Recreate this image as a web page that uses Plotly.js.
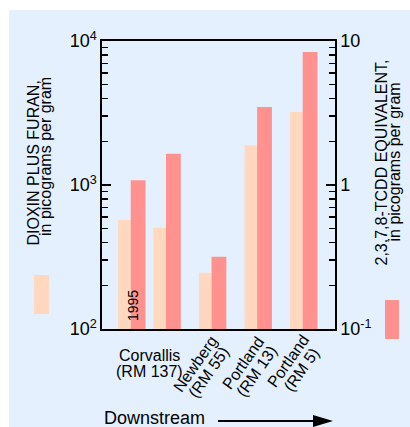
<!DOCTYPE html>
<html><head><meta charset="utf-8">
<script src="https://cdn.plot.ly/plotly-3.0.1.min.js"></script>
<style>html,body{margin:0;padding:0;background:#fff}#chart{width:410px;height:427px}</style>
</head><body><div id="chart"></div>
<script>
// ---- data ----
const sites = ['Corvallis 1995', 'Corvallis', 'Newberg', 'Portland RM13', 'Portland RM5'];
const dioxinFuran = [571, 505, 246, 1887, 3213];        // picograms per gram (left axis)
const tcddEquivalent = [1.08, 1.65, 0.318, 3.48, 8.39];  // picograms per gram (right axis)
const leftTickVals = [100, 1000, 10000];
const leftTickText = ['10<sup>2</sup>', '10<sup>3</sup>', '10<sup>4</sup>'];
const rightTickVals = [0.1, 1, 10];
const rightTickText = ['10<sup>-1</sup>', '1', '10'];
const siteLabels = [['Corvallis', '(RM 137)'], ['Newberg', '(RM 55)'], ['Portland', '(RM 13)'], ['Portland', '(RM 5)']];
const yearLabel = '1995';
const leftTitle = ['DIOXIN PLUS FURAN,', 'in picograms per gram'];
const rightTitle = ['2,3,7,8-TCDD EQUIVALENT,', 'in picograms per gram'];
const flowLabel = 'Downstream';

// ---- layout geometry ----
const W = 410, H = 427, L = 102, R = 75, T = 41, B = 98;
const PW = W - L - R, PH = H - T - B;
const fx = x => (x - L) / PW;
const fy = y => (H - B - y) / PH;
const FONT = 'Liberation Sans, Arial, sans-serif';
const LIGHT = '#FFD8BF', RED = '#FF928F', BG = '#E4F0FD';

const groupShift = [0.226, 0, 0, 0, 0];
const wLight = 0.276, wRed = 0.325;

function minorVals(lo, hi) {
  const v = [];
  for (let e = lo; e < hi; e++) for (let m = 2; m <= 9; m++) v.push(m * Math.pow(10, e));
  return v;
}

const traces = [
  { type: 'bar', x: sites, y: dioxinFuran, yaxis: 'y', marker: { color: LIGHT, line: { width: 0 } },
    width: wLight, offset: groupShift.map(s => s - wLight), hoverinfo: 'skip' },
  { type: 'bar', x: sites, y: tcddEquivalent, yaxis: 'y2', marker: { color: RED, line: { width: 0 } },
    width: wRed, offset: groupShift.map(s => s), hoverinfo: 'skip' }
];

const ann = [];
function txt(text, x, y, size, angle, extra) {
  ann.push(Object.assign({ text: text, xref: 'paper', yref: 'paper', x: fx(x), y: fy(y), showarrow: false,
    font: { family: FONT, size: size, color: '#000' }, textangle: angle || 0, xanchor: 'center', yanchor: 'middle' }, extra || {}));
}
// axis titles
txt(leftTitle[0], 32.5, 163, 16, -90);
txt(leftTitle[1], 45, 157, 16, -90);
txt(rightTitle[0], 381, 162.5, 16, -90);
txt(rightTitle[1], 394, 162.5, 16, -90);
// year label
txt(yearLabel, 133, 306, 14, -90);
// site labels
txt(siteLabels[0][0], 149, 355.5, 16, 0);
txt(siteLabels[0][1], 149, 371.5, 16, 0);
const rotCenters = [[202, 368], [250, 367], [295, 365]];
const ang = 55 * Math.PI / 180, ls = 16;
for (let i = 1; i < 4; i++) {
  const c = rotCenters[i - 1];
  const dx = Math.sin(ang) * ls / 2, dy = Math.cos(ang) * ls / 2;
  txt(siteLabels[i][0], c[0] - dx, c[1] - dy, 16, -55);
  txt(siteLabels[i][1], c[0] + dx, c[1] + dy, 16, -55);
}
// downstream
txt(flowLabel, 102, 418, 18, 0, { xanchor: 'left' });

const shapes = [
  { type: 'rect', xref: 'paper', yref: 'paper', x0: fx(9), x1: fx(412), y0: fy(430), y1: fy(10), fillcolor: BG, line: { width: 0 }, layer: 'below' },
  { type: 'rect', xref: 'paper', yref: 'paper', x0: fx(34), x1: fx(49), y0: fy(314), y1: fy(275), fillcolor: LIGHT, line: { width: 0 } },
  { type: 'rect', xref: 'paper', yref: 'paper', x0: fx(385), x1: fx(399), y0: fy(339), y1: fy(300), fillcolor: RED, line: { width: 0 } },
  { type: 'line', xref: 'paper', yref: 'paper', x0: fx(218), x1: fx(316), y0: fy(421), y1: fy(421), line: { color: '#000', width: 1.8 } },
  { type: 'path', xref: 'paper', yref: 'paper', path: `M${fx(333)},${fy(421)} L${fx(313)},${fy(415)} L${fx(313)},${fy(427)} Z`, fillcolor: '#000', line: { width: 0 } }
];

const axLine = { showline: true, linecolor: '#000', linewidth: 1.6 };
const layout = {
  width: W, height: H, margin: { l: L, r: R, t: T, b: B, pad: 0 },
  paper_bgcolor: '#fff', plot_bgcolor: 'rgba(0,0,0,0)',
  showlegend: false, barmode: 'overlay',
  font: { family: FONT, color: '#000' },
  xaxis: Object.assign({ type: 'category', range: [-0.404, 4.709], mirror: true, ticks: '', showticklabels: false,
    showgrid: false, zeroline: false, fixedrange: true }, axLine),
  yaxis: Object.assign({ type: 'log', range: [2, 4], ticks: 'inside', ticklen: 9, tickwidth: 1.6, tickcolor: '#000',
    tickvals: leftTickVals, ticktext: leftTickText, tickfont: { size: 18, family: FONT, color: '#000' },
    minor: { tickvals: minorVals(2, 4), ticks: 'inside', ticklen: 6, tickwidth: 1.6, tickcolor: '#000', showgrid: false },
    showgrid: false, zeroline: false, fixedrange: true }, axLine),
  yaxis2: Object.assign({ type: 'log', range: [-1, 1], overlaying: 'y', side: 'right', ticks: 'inside', ticklen: 9, tickwidth: 1.6, tickcolor: '#000',
    tickvals: rightTickVals, ticktext: rightTickText, tickfont: { size: 18, family: FONT, color: '#000' },
    minor: { tickvals: minorVals(-1, 1), ticks: 'inside', ticklen: 6, tickwidth: 1.6, tickcolor: '#000', showgrid: false },
    showgrid: false, zeroline: false, fixedrange: true }, axLine),
  annotations: ann,
  shapes: shapes
};
Plotly.newPlot('chart', traces, layout, { staticPlot: true, displayModeBar: false });
</script>
</body></html>
